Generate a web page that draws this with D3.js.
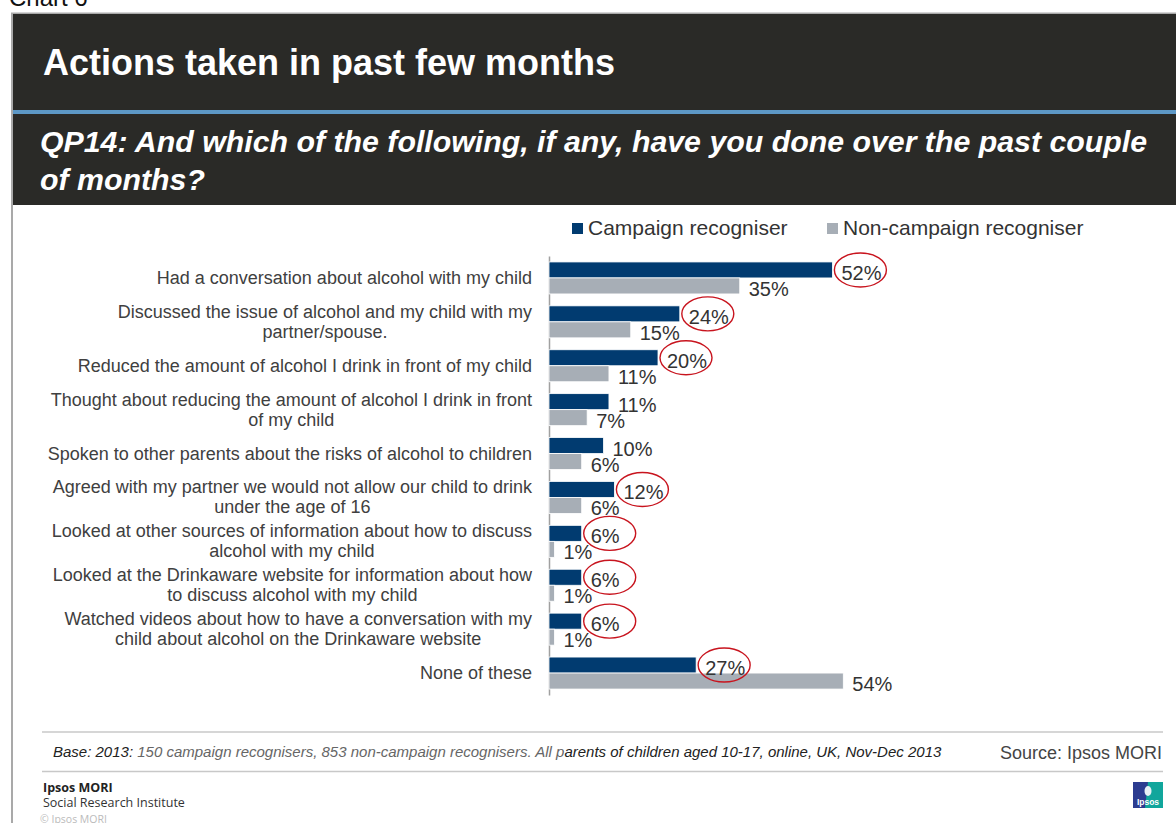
<!DOCTYPE html>
<html>
<head>
<meta charset="utf-8">
<script src="https://cdn.jsdelivr.net/npm/d3@7"></script>
<style>
  body { margin: 0; background: #fff; overflow: hidden; }
  svg { display: block; font-family: Arial, "Liberation Sans", sans-serif; }
</style>
</head>
<body>
<div id="chart"></div>
<script>
(function () {
  'use strict';

  // Categories (line breaks follow the original wrapping)
  var categories = [
    'Had a conversation about alcohol with my child',
    'Discussed the issue of alcohol and my child with my\npartner/spouse.',
    'Reduced the amount of alcohol I drink in front of my child',
    'Thought about reducing the amount of alcohol I drink in front\nof my child',
    'Spoken to other parents about the risks of alcohol to children',
    'Agreed with my partner we would not allow our child to drink\nunder the age of 16',
    'Looked at other sources of information about how to discuss\nalcohol with my child',
    'Looked at the Drinkaware website for information about how\nto discuss alcohol with my child',
    'Watched videos about how to have a conversation with my\nchild about alcohol on the Drinkaware website',
    'None of these'
  ];
  var seriesNames = ['Campaign recogniser', 'Non-campaign recogniser'];
  var campaign    = [52, 24, 20, 11, 10, 12, 6, 6, 6, 27];
  var nonCampaign = [35, 15, 11, 7, 6, 6, 1, 1, 1, 54];
  // campaign values circled in red on the original slide
  var circled = [true, true, true, false, false, true, true, true, true, true];

  var W = 1176, H = 823;
  var blue = '#013b70', grey = '#a7aeb6', textCol = '#404040';

  var svg = d3.select('#chart').append('svg')
    .attr('width', W).attr('height', H)
    .attr('viewBox', [0, 0, W, H]);

  // "Chart 6" caption cut by the top edge (as on the source page)
  svg.append('text').attr('x', 9).attr('y', 6)
    .attr('font-size', 24).attr('fill', '#111').text('Chart 6');

  // frame
  svg.append('path')
    .attr('d', 'M12,' + H + 'V13.5H' + W)
    .attr('fill', 'none').attr('stroke', '#a9a9a9').attr('stroke-width', 2);

  // dark header
  svg.append('rect').attr('x', 13).attr('y', 14).attr('width', W - 13).attr('height', 191)
    .attr('fill', '#2a2a27');
  svg.append('rect').attr('x', 13).attr('y', 110).attr('width', W - 13).attr('height', 4)
    .attr('fill', '#5d98c6');
  svg.append('text').attr('x', 43).attr('y', 75)
    .attr('font-size', 36).attr('font-weight', 'bold').attr('fill', '#fff')
    .text('Actions taken in past few months');
  var sub = svg.append('text').attr('font-size', 30.3).attr('font-weight', 'bold')
    .attr('font-style', 'italic').attr('fill', '#fff');
  sub.append('tspan').attr('x', 40).attr('y', 152)
    .text('QP14: And which of the following, if any, have you done over the past couple');
  sub.append('tspan').attr('x', 40).attr('y', 190).text('of months?');

  // scales
  var x = d3.scaleLinear().domain([0, 100]).range([549, 549 + 545]);
  var y = d3.scaleBand().domain(categories).range([256, 695]);
  var yInner = d3.scaleBand().domain(seriesNames).range([0, 32]);
  var colour = d3.scaleOrdinal().domain(seriesNames).range([blue, grey]);

  var rows = categories.map(function (c, i) {
    return { cat: c, values: [campaign[i], nonCampaign[i]], circled: circled[i] };
  });

  // legend
  var legend = svg.append('g').attr('font-size', 21).attr('fill', '#333');
  var legX = [572, 827];
  seriesNames.forEach(function (s, i) {
    legend.append('rect').attr('x', legX[i]).attr('y', 223).attr('width', 11).attr('height', 11)
      .attr('fill', colour(s));
    legend.append('text').attr('x', legX[i] + 16).attr('y', 235).text(s);
  });

  // category axis: wrapped labels are centred as a block that is right-aligned
  var pad = 17;
  var axis = svg.append('g').attr('transform', 'translate(549,0)')
    .call(d3.axisLeft(y).tickSize(0).tickSizeOuter(0).tickPadding(pad));
  axis.select('.domain').attr('stroke', '#a0a0a0').attr('stroke-width', 1.5);
  axis.selectAll('.tick text')
    .attr('font-size', 18).attr('font-family', 'Arial, "Liberation Sans", sans-serif')
    .attr('fill', textCol).attr('dy', null)
    .each(function (d) {
      var lines = d.split('\n');
      var t = d3.select(this).text(null);
      var first = 6 - (lines.length - 1) * 10;
      var spans = lines.map(function (ln, k) {
        return t.append('tspan').attr('y', first + k * 20).text(ln);
      });
      if (lines.length === 1) {
        spans[0].attr('x', -pad);
      } else {
        var maxW = d3.max(spans, function (s) { return s.node().getComputedTextLength(); });
        t.attr('text-anchor', 'middle');
        spans.forEach(function (s) { s.attr('x', -pad - maxW / 2); });
      }
    });

  // bars
  var groups = svg.append('g').selectAll('g')
    .data(rows).join('g')
    .attr('transform', function (d) { return 'translate(0,' + (y(d.cat) + y.bandwidth() / 2 - 16) + ')'; });

  function pairs(d) {
    return d.values.map(function (v, j) { return { s: seriesNames[j], v: v }; });
  }

  groups.selectAll('rect')
    .data(pairs)
    .join('rect')
    .attr('x', x(0))
    .attr('y', function (d) { return yInner(d.s); })
    .attr('width', function (d) { return x(d.v) - x(0); })
    .attr('height', yInner.bandwidth())
    .attr('fill', function (d) { return colour(d.s); })
    .attr('stroke', '#fff').attr('stroke-width', 0.8);

  groups.selectAll('text.val')
    .data(pairs)
    .join('text').attr('class', 'val')
    .attr('x', function (d) { return x(d.v) + 9; })
    .attr('y', function (d) { return yInner(d.s) + yInner.bandwidth() / 2 + 10; })
    .attr('font-size', 20).attr('fill', '#333')
    .text(function (d) { return d.v + '%'; });

  // red hand-drawn rings
  groups.filter(function (d) { return d.circled; })
    .append('ellipse')
    .attr('cx', function (d) { return x(d.values[0]) + 28; })
    .attr('cy', yInner(seriesNames[0]) + yInner.bandwidth() / 2)
    .attr('rx', 26).attr('ry', 17)
    .attr('fill', 'none').attr('stroke', '#c8141e').attr('stroke-width', 1.4);

  // footer
  svg.append('line').attr('x1', 42).attr('x2', 1163).attr('y1', 732).attr('y2', 732)
    .attr('stroke', '#c8c8c8').attr('stroke-width', 1.5);
  svg.append('line').attr('x1', 42).attr('x2', 1163).attr('y1', 771.5).attr('y2', 771.5)
    .attr('stroke', '#c8c8c8').attr('stroke-width', 1.5);
  var base = svg.append('text').attr('x', 53).attr('y', 757)
    .attr('font-size', 15).attr('font-style', 'italic');
  base.append('tspan').attr('fill', '#222').text('Base: 2013: ');
  base.append('tspan').attr('fill', '#666')
    .text('150 campaign recognisers, 853 non-campaign recognisers. All p');
  base.append('tspan').attr('fill', '#222')
    .text('arents of children aged 10-17, online, UK, Nov-Dec 2013');
  svg.append('text').attr('x', 1162).attr('y', 759).attr('text-anchor', 'end')
    .attr('font-size', 18).attr('fill', '#444').text('Source: Ipsos MORI');

  var brand = svg.append('g').attr('font-family', '"Open Sans", sans-serif');
  brand.append('text').attr('x', 43).attr('y', 792).attr('font-size', 12.5)
    .attr('font-weight', 'bold').attr('fill', '#222').text('Ipsos MORI');
  brand.append('text').attr('x', 43).attr('y', 807).attr('font-size', 12.5)
    .attr('fill', '#333').text('Social Research Institute');
  brand.append('text').attr('x', 40).attr('y', 822.5).attr('font-size', 10.5)
    .attr('fill', '#bbb').text('\u00A9 Ipsos MORI');

  // Ipsos logo block
  var logo = svg.append('g').attr('transform', 'translate(1133,782)');
  logo.append('rect').attr('width', 30).attr('height', 26).attr('fill', '#2c3c90');
  logo.append('path').attr('d', 'M15,0H30V26H12Z').attr('fill', '#11a69c');
  logo.append('ellipse').attr('cx', 15).attr('cy', 9).attr('rx', 3.5).attr('ry', 5).attr('fill', '#e8f0f6');
  logo.append('text').attr('x', 15).attr('y', 23).attr('text-anchor', 'middle')
    .attr('font-size', 8.5).attr('font-weight', 'bold').attr('fill', '#fff').text('Ipsos');
})();
</script>
</body>
</html>
